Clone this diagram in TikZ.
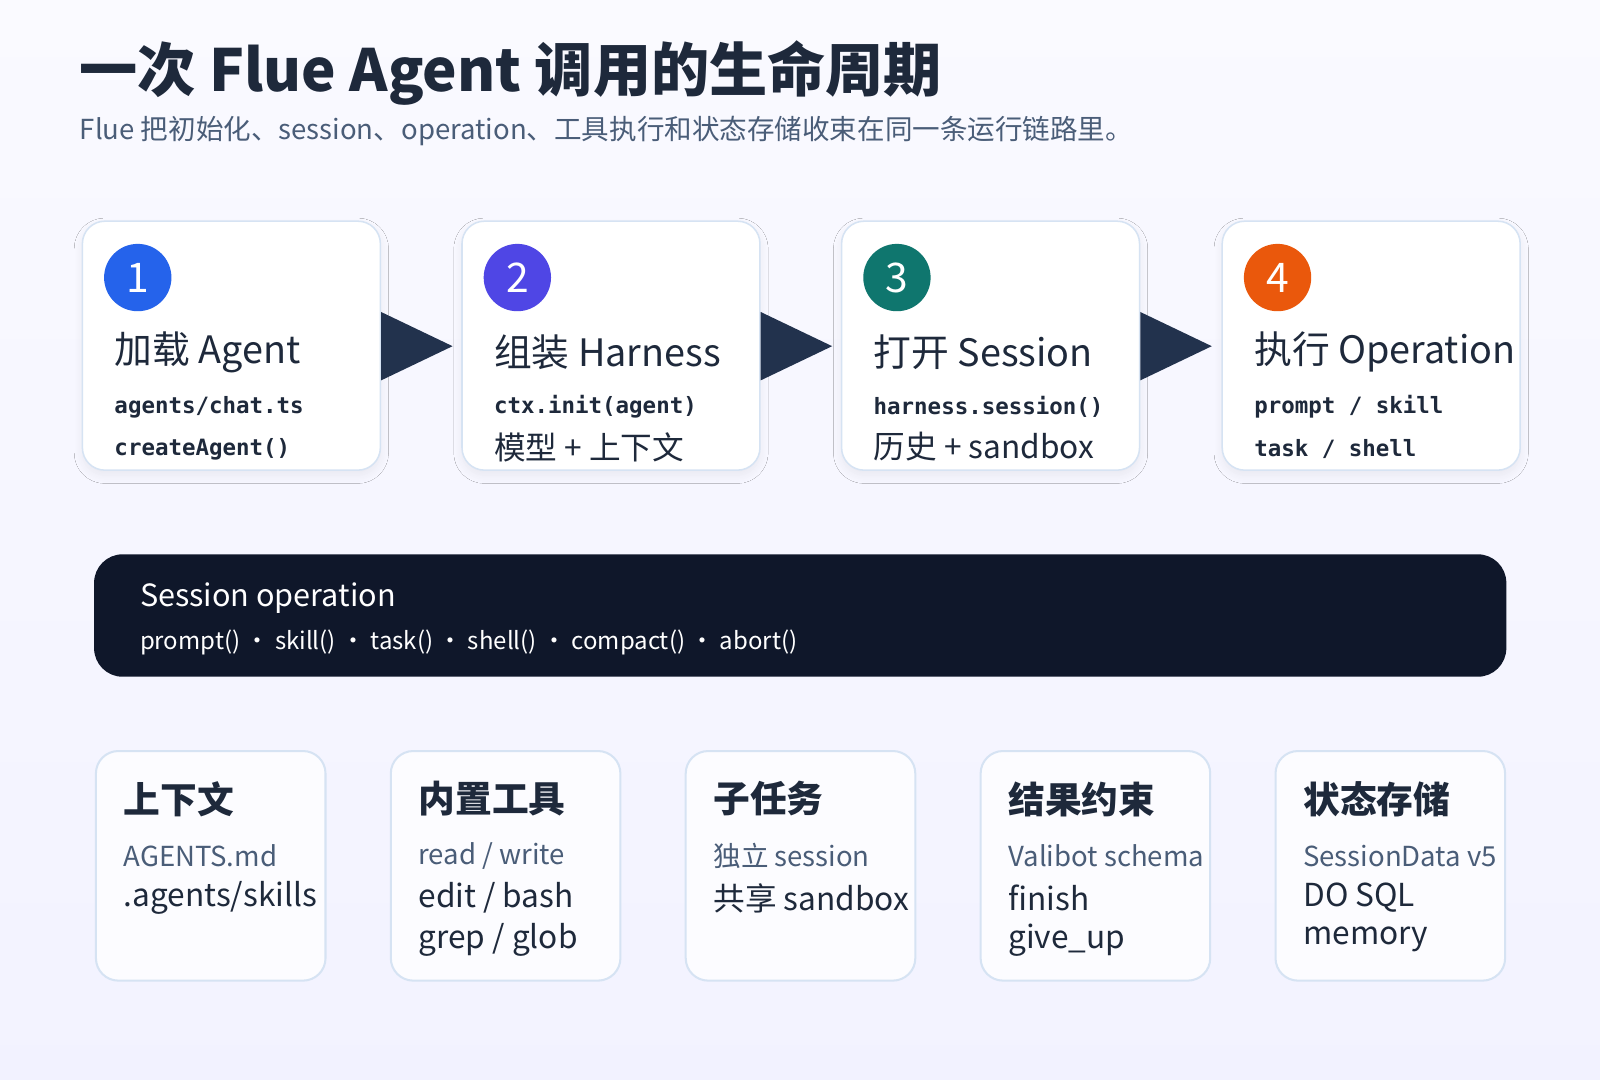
\documentclass[tikz,border=0pt]{standalone}
\usepackage{fontspec}
\setmainfont{Noto Sans CJK SC}
\setmonofont{DejaVu Sans Mono}
\usetikzlibrary{shadows.blur}
\definecolor{ink}{HTML}{1E293B}
\definecolor{sub}{HTML}{4A5D78}
\definecolor{bord}{HTML}{D6E3F3}
\definecolor{navy}{HTML}{0F172A}
\definecolor{arr}{HTML}{22324D}
\newcommand\mysep{\ \slash\ }
\newcommand\myslash{\slash}
\tikzset{
 card/.style={draw=bord,line width=1.5pt,fill=white,rounded corners=22pt,blur shadow={shadow blur steps=12,shadow blur extra rounding=8pt,shadow blur radius=8pt,shadow xshift=0pt,shadow yshift=-5pt,shadow opacity=6}},
 lcard/.style={draw=bord,line width=2pt,fill=white!60!blue!3,rounded corners=22pt},
 num/.style={circle,minimum size=66pt,inner sep=0pt,text=white,font=\fontsize{40}{40}\selectfont},
 head/.style={anchor=west,inner sep=0pt,text=ink,font=\fontsize{37}{40}\selectfont},
 mono/.style={anchor=west,inner sep=0pt,text=ink,font=\fontsize{22}{24}\ttfamily\bfseries},
 plain/.style={anchor=west,inner sep=0pt,text=ink,font=\fontsize{31}{32}\selectfont},
 bhead/.style={anchor=west,inner sep=0pt,text=ink,font=\fontsize{36}{40}\bfseries\selectfont},
 bsub/.style={anchor=west,inner sep=0pt,text=sub,font=\fontsize{27}{28}\selectfont},
 arrowtri/.style={fill=arr},
}
\begin{document}
\begin{tikzpicture}[x=1pt,y=-1pt]
\shade[top color=blue!2,bottom color=blue!5] (0,0) rectangle (1568,1058);
\useasboundingbox (0,0) rectangle (1568,1058);
\node[anchor=west,inner sep=0pt,text=ink,font=\fontsize{57}{60}\bfseries\selectfont] (title) at (78,72) {一次 Flue Agent 调用的生命周期};
\node[anchor=west,inner sep=0pt,text=sub,font=\fontsize{27}{28}\selectfont] (subt) at (78,128) {Flue 把初始化、session、operation、工具执行和状态存储收束在同一条运行链路里。};
% step cards
\foreach \i/\x/\c/\h/\la/\lb/\kind in {
 1/80/2563EB/加载 Agent/agents\myslash chat.ts/createAgent()/1,
 2/452/4F46E5/组装 Harness/ctx.init(agent)/模型 + 上下文/0,
 3/824/0F766E/打开 Session/harness.session()/历史 + sandbox/0,
 4/1197/EA580C/执行 Operation/prompt\mysep skill/task\mysep shell/1}{
 \node[card,minimum width=292pt,minimum height=244pt,anchor=north west] (s\i) at (\x,216) {};
 \definecolor{cc}{HTML}{\c}
 \node[num,fill=cc] (n\i) at (\x+55,272) {\i};
 \node[head] (h\i) at (\x+32,345) {\h};
 \node[mono] (a\i) at (\x+32,399) {\la};
 \ifnum\kind=1 \node[mono] (b\i) at (\x+32,440) {\lb};
 \else \node[plain] (b\i) at (\x+32,438) {\lb}; \fi
}
\foreach \a in {s1,s2,s3}{
 \fill[arrowtri] (\a.east) ++(0,-33) -- ++(0,67) -- ++(70,-33.5) -- cycle;
}
% dark bar
\node[fill=navy,rounded corners=28pt,minimum width=1384pt,minimum height=120pt,anchor=north west] (bar) at (92,543) {};
\node[anchor=west,inner sep=0pt,text=white,font=\fontsize{30}{32}\selectfont] (bt) at (137,586) {Session operation};
\node[anchor=west,inner sep=0pt,text=white,font=\fontsize{23.5}{26}\selectfont] (bl) at (137,630) {prompt() · skill() · task() · shell() · compact() · abort()};
% bottom cards
\foreach \i/\x/\h/\la/\lb/\lc in {
 1/93/上下文/AGENTS.md/.agents\myslash skills/,
 2/382/内置工具/read\mysep write/edit\mysep bash/grep\mysep glob,
 3/671/子任务/独立 session/共享 sandbox/,
 4/960/结果约束/Valibot schema/finish/give\_up,
 5/1249/状态存储/SessionData v5/DO SQL/memory}{
 \node[lcard,minimum width=225pt,minimum height=225pt,anchor=north west] (c\i) at (\x,735) {};
 \node[bhead] (ch\i) at (\x+28,783) {\h};
 \node[bsub] (ca\i) at (\x+28,839) {\la};
 \node[plain] (cb\i) at (\x+28,880) {\lb};
 \node[plain] (cc\i) at (\x+28,921) {\lc};
}
\end{tikzpicture}
\end{document}
